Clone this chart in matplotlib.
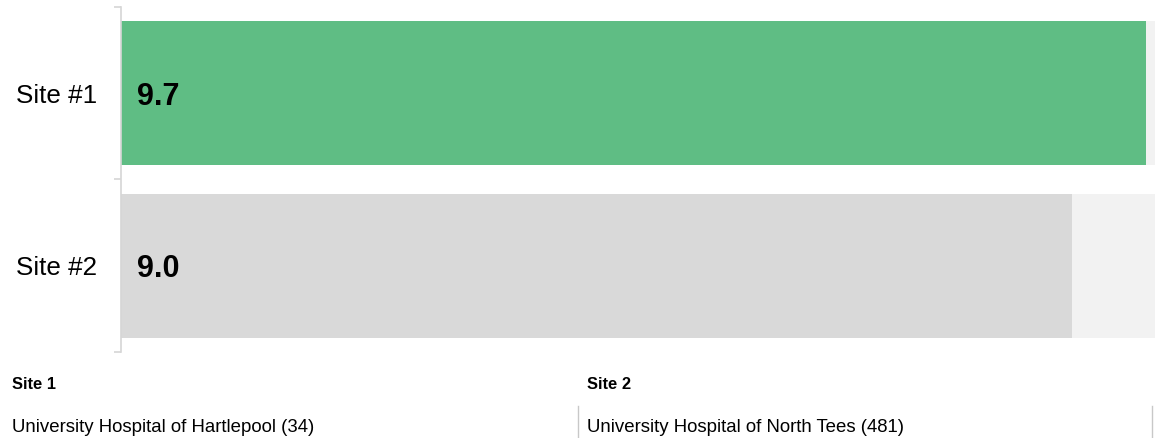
import matplotlib.pyplot as plt
from matplotlib.lines import Line2D

plt.rcParams['font.family'] = ['Liberation Sans', 'DejaVu Sans']

# data
sites = ["Site #1", "Site #2"]
scores = [9.7, 9.0]
score_max = 10
bar_colors = ["#5fbd84", "#d9d9d9"]
site_headers = ["Site 1", "Site 2"]
site_names = ["University Hospital of Hartlepool (34)", "University Hospital of North Tees (481)"]

W, H = 1155, 438
fig = plt.figure(figsize=(W / 100, H / 100), dpi=100)
ax = fig.add_axes([121 / W, (H - 352) / H, 1034 / W, 345 / H])

ypos = list(range(len(sites)))
# background track up to the max score
ax.barh(ypos, [score_max] * len(sites), height=0.832, color="#f2f2f2", zorder=1)
ax.barh(ypos, scores, height=0.832, color=bar_colors, zorder=2)

for y, v in zip(ypos, scores):
    ax.annotate(f"{v:.1f}", xy=(0, y), xytext=(11.5, -2.5), textcoords="offset points",
                va="center", ha="left", fontsize=22, fontweight="bold", color="#000000", zorder=3)

ax.set_xlim(0, 9.7 / 0.9913)
ax.set_ylim(len(sites) - 0.5, -0.5)
ax.set_yticks(ypos)
ax.set_yticklabels(sites, fontsize=18.7)
ax.set_yticks([-0.5, 0.5, 1.5], minor=True)
ax.tick_params(axis="y", which="major", length=0, pad=17)
ax.tick_params(axis="y", which="minor", length=5, width=1.2, color="#d6d6d6")
ax.set_xticks([])
for s in ["top", "right", "bottom"]:
    ax.spines[s].set_visible(False)
ax.spines["left"].set_color("#d6d6d6")
ax.spines["left"].set_linewidth(1.2)

# bottom legend table
col_x = [12, 587]
for cx, head, name in zip(col_x, site_headers, site_names):
    fig.text(cx / W, (H - 389) / H, head, fontsize=11.9, fontweight="bold", va="baseline")
    fig.text(cx / W, (H - 432) / H, name, fontsize=13.4, va="baseline")
for lx in [578, 1152]:
    fig.add_artist(Line2D([lx / W, lx / W], [0, (H - 406) / H], color="#c8c8c8", lw=1))

fig.savefig("out.png", dpi=100)
